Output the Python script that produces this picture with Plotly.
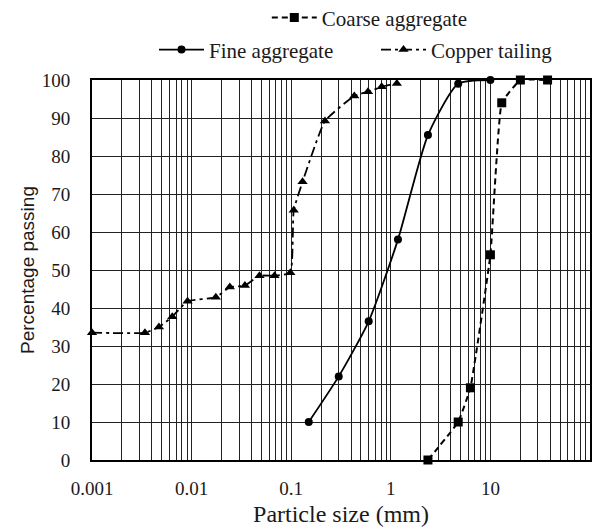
import plotly.graph_objects as go

coarse_x = [2.36, 4.75, 6.3, 10, 13, 20, 37.5]
coarse_y = [0, 10, 19, 54, 94, 100, 100]

fine_x = [0.15, 0.3, 0.6, 1.18, 2.36, 4.75, 10]
fine_y = [10, 22, 36.5, 58, 85.5, 99, 100]

copper_x = [0.001, 0.0034, 0.0047, 0.0064, 0.0091, 0.0175, 0.0242, 0.0343, 0.048,
            0.068, 0.098, 0.106, 0.13, 0.218, 0.43, 0.59, 0.81, 1.15]
copper_y = [33.5, 33.5, 35, 37.7, 41.8, 42.8, 45.5, 45.9, 48.5,
            48.5, 49.3, 65.7, 73.2, 89.2, 95.8, 96.9, 98.2, 99.1]

decade_labels = {0.001: "0.001", 0.01: "0.01", 0.1: "0.1", 1: "1", 10: "10"}

tickvals, ticktext = [], []
for d in [0.001, 0.01, 0.1, 1, 10]:
    for m in range(1, 10):
        tickvals.append(round(d * m, 6))
        ticktext.append(decade_labels[d] if m == 1 else "")
tickvals.append(100)
ticktext.append("")

SERIF = "Liberation Serif"
SANS = "Liberation Sans"

fig = go.Figure()
fig.add_trace(go.Scatter(
    x=coarse_x, y=coarse_y, name="Coarse aggregate", mode="lines+markers", cliponaxis=False,
    line=dict(color="black", width=2, dash="6px,4px", shape="spline", smoothing=0.3),
    marker=dict(symbol="square", size=9, color="black"), legend="legend"))
fig.add_trace(go.Scatter(
    x=fine_x, y=fine_y, name="Fine aggregate", mode="lines+markers", cliponaxis=False,
    line=dict(color="black", width=1.8, shape="spline", smoothing=0.6),
    marker=dict(symbol="circle", size=8, color="black"), legend="legend2"))
fig.add_trace(go.Scatter(
    x=copper_x, y=copper_y, name="Copper tailing", mode="lines+markers", cliponaxis=False,
    line=dict(color="black", width=1.8, dash="10px,4px,3px,4px", shape="spline", smoothing=0.4),
    marker=dict(symbol="triangle-up", size=9, color="black"), legend="legend2"))

fig.update_layout(
    width=592, height=524,
    showlegend=True,
    margin=dict(l=84, r=10, t=72, b=72, autoexpand=False),
    paper_bgcolor="white", plot_bgcolor="white",
    font=dict(family=SERIF, size=19, color="#1a1a1a"),
    xaxis=dict(type="log", range=[-3, 2], tickvals=tickvals, ticktext=ticktext,
               showgrid=True, gridcolor="#222", gridwidth=1,
               showline=True, linecolor="black", linewidth=2, mirror=True,
               ticks="", zeroline=False, ticklabelstandoff=10,
               title=dict(text="Particle size (mm)", font=dict(family=SERIF, size=24), standoff=7),
               tickfont=dict(family=SERIF, size=19)),
    yaxis=dict(range=[0, 100], dtick=10, showgrid=True, gridcolor="#222", gridwidth=1,
               showline=True, linecolor="black", linewidth=2, mirror=True,
               ticks="", zeroline=False, ticklabelstandoff=16,
               title=dict(text="Percentage passing", font=dict(family=SANS, size=19), standoff=2),
               tickfont=dict(family=SERIF, size=19)),
    legend=dict(orientation="h", x=0.351, xanchor="left", yref="container",
                y=0.981, yanchor="middle", itemwidth=45,
                font=dict(family=SERIF, size=21), bgcolor="rgba(0,0,0,0)"),
    legend2=dict(orientation="h", x=0.1245, xanchor="left", yref="container",
                 y=0.92, yanchor="middle", entrywidth=162, itemwidth=45,
                 font=dict(family=SERIF, size=21), bgcolor="rgba(0,0,0,0)"),
)

fig.write_html("out.html")
